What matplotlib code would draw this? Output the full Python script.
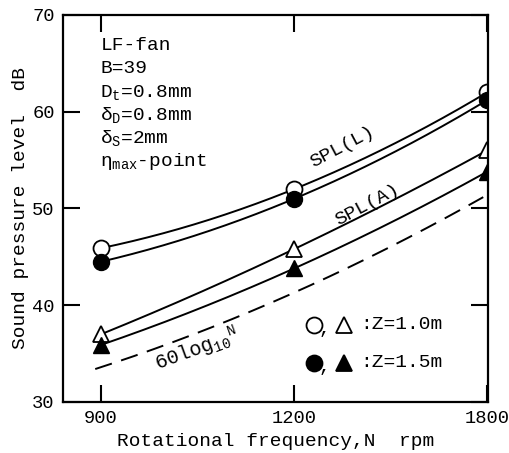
import numpy as np
import matplotlib
matplotlib.use("Agg")
import matplotlib.pyplot as plt

plt.rcParams['font.family'] = ['Liberation Mono', 'DejaVu Sans']
plt.rcParams['mathtext.fontset'] = 'custom'
plt.rcParams['mathtext.rm'] = 'Liberation Mono'
plt.rcParams['mathtext.it'] = 'Liberation Mono'
plt.rcParams['mathtext.tt'] = 'Liberation Mono'

# ---- data ----
rpm = [900, 1200, 1800]
spl_L_z10 = [45.9, 52.0, 62.0]   # open circles
spl_L_z15 = [44.5, 51.0, 61.2]   # filled circles
spl_A_z10 = [37.0, 45.8, 56.0]   # open triangles
spl_A_z15 = [35.9, 43.8, 53.8]   # filled triangles
law_60log = [33.6, 41.3, 51.4]   # 60 log10 N reference (dashed)
yticks = [30, 40, 50, 60, 70]

# x axis: 900, 1200, 1800 equally spaced  (N = 600 + 300*2^p)
def fwd(n):
    n = np.asarray(n, dtype=float)
    return np.log2(np.clip((n - 600.0) / 300.0, 1e-9, None))

def inv(p):
    return 600.0 + 300.0 * np.power(2.0, p)

fig = plt.figure(figsize=(5.10, 4.53), dpi=100)
ax = fig.add_axes([0.1235, 0.1126, 0.8335, 0.8543])
ax.set_xscale('function', functions=(fwd, inv))

def smooth(vals, p0=0.0, p1=2.0):
    p = fwd(rpm)
    c = np.polyfit(p, vals, 2)
    pp = np.linspace(p0, p1, 200)
    return inv(pp), np.polyval(c, pp)

lw = 1.4
for vals in (spl_L_z10, spl_L_z15, spl_A_z10, spl_A_z15):
    xs, ys = smooth(vals)
    ax.plot(xs, ys, color='black', lw=lw)
xs, ys = smooth(law_60log, -0.03, 1.98)
ax.plot(xs, ys, color='black', lw=lw, dashes=(9, 5))

ms = 11.5
ax.plot(rpm, spl_L_z10, 'o', ms=ms, mfc='white', mec='black', mew=1.3)
ax.plot(rpm, spl_L_z15, 'o', ms=ms, mfc='black', mec='black')
ax.plot(rpm, spl_A_z10, '^', ms=ms, mfc='white', mec='black', mew=1.3)
ax.plot(rpm, spl_A_z15, '^', ms=ms, mfc='black', mec='black')

ax.set_xlim(inv(-0.197), inv(2.005))
ax.set_ylim(30, 70)
ax.set_xticks(rpm)
ax.set_xticklabels([str(r) for r in rpm])
ax.set_yticks(yticks)
ax.minorticks_off()
ax.tick_params(direction='in', length=12, width=1.5, labelsize=13.5,
               top=True, right=True, pad=6)
for s in ax.spines.values():
    s.set_linewidth(1.6)

ax.set_xlabel('Rotational frequency,N  rpm', fontsize=14, labelpad=4)
ax.set_ylabel('Sound pressure level  dB', fontsize=14, labelpad=2)

# info block
info = ['LF-fan', 'B=39', r'D$_{\rm t}$=0.8mm', r'δ$_{\rm D}$=0.8mm',
        r'δ$_{\rm S}$=2mm', r'η$_{\rm max}$-point']
for i, t in enumerate(info):
    ax.text(0.088, 0.92 - i * 0.0595, t, transform=ax.transAxes,
            fontsize=14, va='center', ha='left')

# curve labels
ax.text(1313, 56.4, 'SPL(L)', fontsize=14, rotation=28, ha='center', va='center')
ax.text(1382, 50.4, 'SPL(A)', fontsize=14, rotation=28, ha='center', va='center')
ax.text(1023, 35.4, r'60log$_{10}{}^{\rm N}$', fontsize=14.5, rotation=20,
        ha='center', va='center')

# legend
for yy, fill, lab in ((0.199, 'white', ':Z=1.0m'), (0.101, 'black', ':Z=1.5m')):
    ax.plot([0.591], [yy], 'o', ms=ms, mfc=fill, mec='black', mew=1.3,
            transform=ax.transAxes, clip_on=False)
    ax.text(0.614, yy - 0.012, ',', transform=ax.transAxes, fontsize=14,
            ha='center', va='center')
    ax.plot([0.662], [yy], '^', ms=ms, mfc=fill, mec='black', mew=1.3,
            transform=ax.transAxes, clip_on=False)
    ax.text(0.70, yy, lab, transform=ax.transAxes, fontsize=14,
            ha='left', va='center')

fig.savefig('out.png', dpi=100)
